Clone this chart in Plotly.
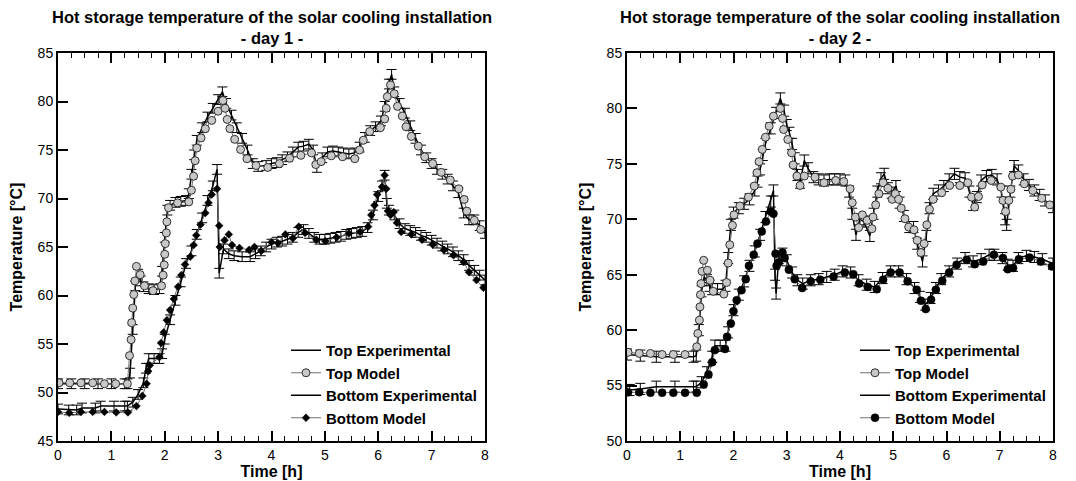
import plotly.graph_objects as go

# ---------------- Day 1 ----------------
d1_top_exp_t = [0, 0.25, 0.5, 0.75, 1.0, 1.25, 1.3, 1.35, 1.4, 1.45, 1.5,
                1.55, 1.6, 1.7, 1.8, 1.9, 1.95, 2.0, 2.05, 2.1, 2.2, 2.3, 2.4, 2.45, 2.5, 2.55, 2.6, 2.7,
                2.8, 2.9, 3.0, 3.08, 3.15, 3.25, 3.35, 3.45, 3.55, 3.65, 3.75, 3.9, 4.0, 4.1, 4.2, 4.3,
                4.4, 4.5, 4.6, 4.7, 4.78, 4.85, 4.95, 5.05, 5.15, 5.25, 5.35, 5.45, 5.55, 5.65, 5.75,
                5.85, 5.95, 6.05, 6.12, 6.2, 6.25, 6.3, 6.4, 6.5, 6.6, 6.7, 6.8, 6.9, 7.0, 7.1, 7.2, 7.3,
                7.4, 7.5, 7.6, 7.7, 7.8, 7.9, 8.0]
d1_top_exp = [50.9, 50.9, 50.9, 50.9, 50.9, 50.9, 50.9, 52.0, 56.5,
              61.0, 62.2, 61.5, 60.9, 60.7, 60.6, 60.7, 62.5, 66.0, 68.8, 69.3, 69.6, 69.7, 69.8, 70.5, 72.5,
              74.5, 76.0, 77.3, 78.4, 79.3, 80.2, 81.0, 79.8, 78.6, 77.3, 76.2, 75.0, 73.6, 73.3, 73.4,
              73.6, 73.7, 74.0, 74.3, 74.8, 75.3, 75.4, 75.6, 75.0, 73.2, 74.2, 74.8, 74.9, 74.8, 74.7,
              74.6, 74.7, 75.3, 76.3, 77.0, 77.4, 78.0, 79.5, 81.8, 82.8, 81.0, 79.8, 78.8, 77.5, 76.2,
              75.0, 74.2, 73.6, 73.0, 72.5, 72.0, 71.3, 70.6, 68.5, 67.8, 67.8, 67.2, 66.4]

d1_top_mod_t = [0.02, 0.22, 0.43, 0.65, 0.87, 1.08, 1.30, 1.34, 1.37, 1.38, 1.40, 1.42, 1.44, 1.47, 1.54,
                1.62, 1.78, 1.94, 1.97, 1.99, 2.0, 2.01, 2.03, 2.04, 2.07, 2.24, 2.45, 2.50, 2.54, 2.57,
                2.60, 2.68, 2.76, 2.88, 3.0, 3.09, 3.13, 3.17, 3.22, 3.31, 3.42, 3.54, 3.71, 3.93, 4.15,
                4.34, 4.55, 4.75, 4.83, 4.93, 5.12, 5.33, 5.56, 5.65, 5.72, 5.84, 6.04, 6.12, 6.15, 6.17,
                6.23, 6.3, 6.36, 6.45, 6.52, 6.62, 6.75, 6.87, 7.02, 7.18, 7.35, 7.51, 7.61, 7.66, 7.8,
                7.92]
d1_top_mod = [51.0, 51.0, 51.0, 51.0, 50.9, 50.9, 50.9, 53.8, 55.45, 57.2, 58.7, 60.1, 61.5, 63.0, 62.15,
              61.0, 60.5, 61.0, 62.1, 63.15, 64.25, 65.35, 66.45, 67.6, 69.05, 69.55, 69.65, 70.85, 72.3,
              73.9, 75.2, 76.25, 77.2, 78.05, 79.0, 80.1, 79.3, 78.15, 77.2, 76.1, 75.05, 74.1, 73.4,
              73.2, 73.6, 74.15, 74.45, 74.7, 73.5, 73.8, 74.4, 74.3, 74.1, 75.0, 76.0, 76.9, 77.3,
              78.2, 79.3, 80.5, 81.7, 80.8, 79.5, 78.5, 77.4, 76.4, 75.4, 74.3, 73.6, 72.7, 71.9, 71.0,
              69.9, 68.7, 67.75, 66.8]

d1_bot_exp_t = [0, 0.2, 0.35, 0.45, 0.7, 0.8, 1.05, 1.25, 1.3, 1.4, 1.5, 1.6, 1.65,
                1.7, 1.8, 1.9, 1.95, 2.0, 2.1, 2.2, 2.3, 2.4, 2.5, 2.6, 2.7, 2.8, 2.9, 2.98, 3.02, 3.1,
                3.2, 3.3, 3.45, 3.6, 3.7, 3.8, 3.9, 4.0, 4.1, 4.2, 4.3, 4.4, 4.5, 4.6, 4.7, 4.8, 4.9,
                5.0, 5.1, 5.2, 5.3, 5.4, 5.5, 5.6, 5.7, 5.8, 5.9, 6.0, 6.07, 6.12, 6.16, 6.2, 6.3, 6.4,
                6.5, 6.6, 6.7, 6.8, 6.9, 7.0, 7.1, 7.2, 7.3, 7.4, 7.5, 7.6, 7.7, 7.8, 7.9, 8.0]
d1_bot_exp = [48.3, 48.2, 48.2, 48.4, 48.4, 48.6, 48.6, 48.6, 48.6, 49.0,
              49.8, 51.0, 52.5, 53.5, 53.5, 53.5, 54.0, 55.5, 57.5, 59.5, 61.4, 63.3, 64.6, 66.3, 68.0,
              69.8, 71.3, 73.0, 62.3, 64.8, 64.3, 64.1, 64.0, 64.0, 64.3, 64.6, 65.0, 65.3, 65.5, 65.6,
              65.8, 66.0, 66.5, 66.8, 66.4, 66.0, 65.8, 65.8, 65.9, 66.0, 66.1, 66.3, 66.4, 66.5, 66.6,
              67.0, 68.3, 70.2, 71.3, 72.4, 69.5, 68.8, 68.3, 67.4, 66.9, 66.7, 66.5, 66.2, 66.0, 65.7,
              65.4, 65.1, 64.8, 64.5, 64.1, 63.7, 63.1, 62.6, 62.1, 61.6]

d1_bot_mod_t = [0.0, 0.21, 0.43, 0.65, 0.87, 1.09, 1.31, 1.47, 1.58, 1.66, 1.69, 1.72, 1.90, 1.93, 1.98,
                2.04, 2.1, 2.17, 2.25, 2.31, 2.38, 2.48, 2.54, 2.59, 2.67, 2.76, 2.82, 2.88, 2.98, 3.02,
                3.03, 3.12, 3.2, 3.26, 3.4, 3.58, 3.68, 3.81, 4.0, 4.12, 4.26, 4.4, 4.51, 4.63, 4.84,
                5.01, 5.22, 5.45, 5.66, 5.81, 5.87, 5.93, 5.98, 6.07, 6.12, 6.15, 6.18, 6.23, 6.29, 6.35,
                6.43, 6.62, 6.82, 7.02, 7.23, 7.41, 7.6, 7.7, 7.84, 7.97]
d1_bot_mod = [48.0, 47.9, 48.0, 48.0, 48.0, 47.95, 47.95, 48.6, 49.65, 50.9, 52.2, 52.8, 53.65, 55.1,
              56.2, 57.45, 58.5, 59.65, 60.9, 62.1, 63.2, 64.0, 65.2, 66.2, 67.3, 68.5, 69.55, 70.4, 71.0,
              67.2, 65.0, 65.7, 66.3, 65.2, 64.9, 64.7, 65.0, 64.6, 65.5, 65.4, 66.3, 65.9, 67.1, 66.45,
              65.75, 65.6, 66.0, 66.4, 66.55, 67.1, 68.3, 69.3, 70.4, 71.2, 72.4, 71.0, 68.7, 68.3, 68.6,
              67.5, 66.55, 66.3, 65.75, 65.25, 64.7, 64.15, 63.45, 62.4, 61.6, 60.8]

# ---------------- Day 2 ----------------
d2_top_exp_t = [0, 0.25, 0.55, 0.9, 1.25, 1.3, 1.35, 1.4, 1.45, 1.5,
                1.55, 1.6, 1.7, 1.8, 1.85, 1.9, 1.95, 2.0, 2.1, 2.2, 2.3, 2.4, 2.45, 2.5, 2.55, 2.6, 2.7,
                2.8, 2.88, 2.95, 3.0, 3.05, 3.1, 3.15, 3.2, 3.25, 3.33, 3.4, 3.5, 3.6, 3.7, 3.8, 3.9, 4.0,
                4.1, 4.17, 4.23, 4.3, 4.37, 4.45, 4.56, 4.63, 4.7, 4.77, 4.83, 4.9, 4.97, 5.05, 5.12, 5.2,
                5.3, 5.38, 5.45, 5.55, 5.62, 5.68, 5.75, 5.85, 5.95, 6.05, 6.15, 6.25, 6.35, 6.43, 6.5,
                6.57, 6.65, 6.75, 6.85, 6.95, 7.03, 7.1, 7.13, 7.2, 7.27, 7.35, 7.45, 7.55, 7.65, 7.75,
                7.85, 8.0]
d2_top_exp = [57.8, 57.7, 57.6, 57.6, 57.6, 57.7, 60.0,
              63.5, 64.8, 64.5, 64.0, 63.7, 63.7, 63.7, 64.0, 66.5, 69.5, 70.6, 71.0, 71.4, 71.8, 72.6,
              73.4, 74.5, 75.8, 76.8, 78.2, 79.6, 80.9, 79.8, 78.5, 77.8, 76.8, 75.5, 74.0, 73.3, 75.3,
              74.6, 73.8, 73.6, 73.5, 73.6, 73.6, 73.6, 73.5, 72.5, 70.5, 68.6, 70.0, 69.8, 68.5, 70.5,
              72.5, 73.7, 74.1, 72.8, 72.4, 73.0, 71.5, 70.3, 69.3, 69.3, 67.8, 66.2, 68.5, 71.0, 72.3,
              72.6, 73.0, 73.6, 74.1, 73.8, 73.7, 72.5, 71.3, 72.0, 73.5, 73.9, 74.0, 73.6, 72.5, 70.0,
              69.5, 72.5, 74.8, 74.4, 73.6, 73.1, 72.6, 72.2, 71.7, 71.1]

d2_top_mod_t = [0.02, 0.23, 0.44, 0.66, 0.87, 1.09, 1.31, 1.33, 1.36, 1.37, 1.38, 1.39, 1.41, 1.44, 1.51,
                1.56, 1.62, 1.82, 1.87, 1.90, 1.93, 1.98, 2.01, 2.12, 2.28, 2.39, 2.44, 2.48, 2.54, 2.60,
                2.67, 2.75, 2.88, 2.92, 2.94, 3.02, 3.09, 3.12, 3.19, 3.25, 3.33, 3.53, 3.70, 3.92, 4.07,
                4.19, 4.23, 4.29, 4.35, 4.42, 4.51, 4.60, 4.62, 4.67, 4.73, 4.81, 4.90, 4.98, 5.04, 5.10,
                5.15, 5.22, 5.29, 5.39, 5.45, 5.52, 5.58, 5.63, 5.68, 5.75, 5.91, 6.06, 6.25, 6.40, 6.47,
                6.53, 6.60, 6.67, 6.84, 7.02, 7.06, 7.11, 7.17, 7.21, 7.24, 7.35, 7.46, 7.62, 7.79, 7.94]
d2_top_mod = [58.0, 57.9, 57.9, 57.8, 57.8, 57.8, 58.5, 59.7, 60.9, 62.1, 63.2, 64.2, 65.3, 66.3, 65.4,
              64.5, 63.5, 63.25, 64.3, 66.05, 67.7, 69.45, 70.4, 71.2, 72.0, 73.0, 74.2, 75.2, 76.3, 77.4,
              78.4, 79.3, 80.0, 79.1, 78.1, 77.2, 76.0, 74.9, 73.9, 73.05, 73.9, 73.8, 73.3, 73.5, 73.4,
              72.75, 71.5, 70.2, 69.25, 70.4, 69.9, 69.15, 70.2, 71.3, 72.3, 73.3, 72.8, 71.8, 72.3, 71.8,
              71.0, 70.05, 69.3, 69.05, 68.1, 67.0, 67.8, 69.5, 70.9, 71.8, 72.4, 73.05, 73.05, 73.3, 72.0,
              71.1, 72.05, 73.1, 73.5, 72.9, 71.7, 70.7, 71.7, 72.7, 73.9, 74.0, 73.2, 72.6, 71.9, 71.3]

d2_bot_exp_t = [0, 0.05, 0.25, 0.55, 0.9, 1.25, 1.3, 1.4, 1.5, 1.6, 1.65,
                1.75, 1.85, 1.9, 2.0, 2.1, 2.2, 2.3, 2.4, 2.5, 2.6, 2.7, 2.75, 2.78, 2.8, 2.85, 2.92, 3.0,
                3.1, 3.2, 3.3, 3.45, 3.6, 3.75, 3.9, 4.05, 4.2, 4.35, 4.5, 4.65, 4.8, 4.95, 5.1, 5.25,
                5.4, 5.5, 5.6, 5.7, 5.8, 5.9, 6.05, 6.2, 6.35, 6.5, 6.65, 6.8, 6.9, 7.05, 7.15, 7.25,
                7.35, 7.5, 7.65, 7.8, 8.0]
d2_bot_exp = [54.6, 54.6, 54.7, 54.9, 54.9, 54.9, 54.9, 55.3,
              56.2, 57.6, 58.6, 58.6, 58.6, 59.8, 61.8, 63.2, 64.4, 65.8, 67.1, 68.6, 70.2, 71.6, 72.6,
              65.0, 63.3, 66.5, 66.9, 66.3, 65.2, 64.5, 64.2, 64.5, 64.6, 64.8, 65.0, 65.3, 65.2, 64.5,
              64.1, 63.9, 64.7, 65.3, 65.3, 64.6, 63.8, 63.0, 62.3, 62.9, 63.8, 64.6, 65.3, 66.0, 66.5,
              66.2, 66.4, 66.8, 66.8, 66.5, 65.9, 65.8, 66.5, 66.7, 66.6, 66.4, 66.0]

d2_bot_mod_t = [0.02, 0.23, 0.44, 0.66, 0.87, 1.09, 1.31, 1.44, 1.53, 1.60, 1.65, 1.84, 1.88, 1.95, 2.0,
                2.06, 2.15, 2.23, 2.29, 2.38, 2.45, 2.53, 2.61, 2.70, 2.75, 2.79, 2.81, 2.85, 2.92, 2.96,
                3.04, 3.15, 3.29, 3.45, 3.63, 3.88, 4.09, 4.25, 4.36, 4.52, 4.69, 4.81, 4.95, 5.12, 5.27,
                5.44, 5.52, 5.61, 5.71, 5.80, 5.92, 6.05, 6.19, 6.38, 6.53, 6.69, 6.89, 7.06, 7.15, 7.25,
                7.36, 7.56, 7.77, 7.98]
d2_bot_mod = [54.4, 54.4, 54.35, 54.35, 54.35, 54.35, 54.35, 55.1, 56.0, 57.1, 58.2, 58.3, 59.4, 60.6,
              61.7, 62.7, 63.6, 64.6, 65.8, 66.8, 67.8, 68.9, 69.8, 70.7, 70.5, 66.9, 65.8, 66.1, 67.0,
              66.5, 65.45, 64.6, 63.8, 64.4, 64.55, 64.85, 65.2, 65.05, 64.2, 63.9, 63.7, 64.55, 65.2,
              65.2, 64.4, 63.65, 62.65, 61.9, 62.75, 63.65, 64.45, 65.2, 65.9, 66.35, 65.95, 66.2, 66.8,
              66.5, 65.5, 65.6, 66.4, 66.55, 66.2, 65.75]

err_exp = 0.5  # experimental uncertainty (degC)

titles = ["Hot storage temperature of the solar cooling installation", "- day 1 -", "- day 2 -"]
legend_names = ["Top Experimental", "Top Model", "Bottom Experimental", "Bottom Model"]
x_tickvals = [0, 1, 2, 3, 4, 5, 6, 7, 8]

FONT = "Liberation Sans"
OFF = 8                     # page body margin in the browser
W, H = 1076 - OFF, 481 - OFF
# plot areas in screen pixels
L1, R1 = 58, 485
L2, R2 = 627, 1053
TOP, BOT = 53, 441


def px_x(p):
    return (p - OFF) / W


def px_y(p):
    return 1 - (p - OFF) / H


fig = go.Figure()

GRAY_LINE = "#707070"
MOD_FILL = "#c8c8c8"


def add_day(xa, ya, leg, top_exp_t, top_exp, top_mod_t, top_mod, bot_exp_t, bot_exp, bot_mod_t, bot_mod,
            bot_symbol, bot_size):
    fig.add_trace(go.Scatter(
        x=top_exp_t, y=top_exp, mode="lines", name=legend_names[0], xaxis=xa, yaxis=ya, legend=leg,
        line=dict(color="black", width=1.5),
        error_y=dict(type="constant", value=err_exp, color="black", thickness=1, width=5)))
    fig.add_trace(go.Scatter(
        x=top_mod_t, y=top_mod, mode="lines+markers", name=legend_names[1], xaxis=xa, yaxis=ya, legend=leg,
        line=dict(color=GRAY_LINE, width=1),
        marker=dict(symbol="circle", size=8, color=MOD_FILL, line=dict(color="#303030", width=1))))
    fig.add_trace(go.Scatter(
        x=bot_exp_t, y=bot_exp, mode="lines", name=legend_names[2], xaxis=xa, yaxis=ya, legend=leg,
        line=dict(color="black", width=1.5),
        error_y=dict(type="constant", value=err_exp, color="black", thickness=1, width=5)))
    fig.add_trace(go.Scatter(
        x=bot_mod_t, y=bot_mod, mode="lines+markers", name=legend_names[3], xaxis=xa, yaxis=ya, legend=leg,
        line=dict(color=GRAY_LINE, width=1),
        marker=dict(symbol=bot_symbol, size=bot_size, color="black", line=dict(color="black", width=0.5))))


add_day("x", "y", "legend", d1_top_exp_t, d1_top_exp, d1_top_mod_t, d1_top_mod,
        d1_bot_exp_t, d1_bot_exp, d1_bot_mod_t, d1_bot_mod, "diamond", 6)
add_day("x2", "y2", "legend2", d2_top_exp_t, d2_top_exp, d2_top_mod_t, d2_top_mod,
        d2_bot_exp_t, d2_bot_exp, d2_bot_mod_t, d2_bot_mod, "circle", 8)

tickfont = dict(family=FONT, size=14, color="black")
titlefont = dict(family=FONT, size=16, color="black", weight="bold")


def xaxis(dom, anchor):
    return dict(domain=dom, anchor=anchor, range=[0, 8], tickvals=x_tickvals, ticks="inside",
                ticklen=10, tickwidth=2, tickcolor="black", showline=True, linecolor="black",
                linewidth=2, mirror="allticks", showgrid=False, zeroline=False, tickfont=tickfont,
                automargin=False,
                minor=dict(dtick=0.25, ticks="inside", ticklen=5, tickwidth=1, tickcolor="black",
                           showgrid=False),
                title=dict(text="Time [h]", font=titlefont, standoff=0))


def yaxis(dom, anchor, rng):
    return dict(domain=dom, anchor=anchor, range=rng, dtick=5, ticks="inside", ticklen=10, tickwidth=2,
                tickcolor="black", showline=True, linecolor="black", linewidth=2, mirror=True,
                showgrid=False, zeroline=False, tickfont=tickfont, automargin=False,
                title=dict(text="Temperature [°C]", font=titlefont, standoff=11))


legend_font = dict(family=FONT, size=15, color="black", weight="bold")
ydom = [px_y(BOT), px_y(TOP)]
fig.update_layout(
    width=W, height=H,
    margin=dict(l=0, r=0, t=0, b=0, autoexpand=False),
    paper_bgcolor="white", plot_bgcolor="white",
    font=dict(family=FONT, color="black"),
    xaxis=xaxis([px_x(L1), px_x(R1)], "y"),
    yaxis=yaxis(ydom, "x", [45, 85]),
    xaxis2=xaxis([px_x(L2), px_x(R2)], "y2"),
    yaxis2=yaxis(ydom, "x2", [50, 85]),
    legend=dict(x=px_x(L1 + 228), y=px_y(334), xanchor="left", yanchor="top", font=legend_font,
                bgcolor="rgba(0,0,0,0)", tracegroupgap=0, itemwidth=30),
    legend2=dict(x=px_x(L2 + 228), y=px_y(334), xanchor="left", yanchor="top", font=legend_font,
                 bgcolor="rgba(0,0,0,0)", tracegroupgap=0, itemwidth=30),
)

title_font = dict(family=FONT, size=16.5, color="black", weight="bold")
for cx, sub in [((L1 + R1) / 2, titles[1]), ((L2 + R2) / 2, titles[2])]:
    fig.add_annotation(x=px_x(cx), y=px_y(27), xref="paper", yref="paper",
                       text=titles[0] + "<br>" + sub,
                       showarrow=False, font=title_font, xanchor="center", yanchor="middle",
                       align="center")

fig.write_html("out.html")
